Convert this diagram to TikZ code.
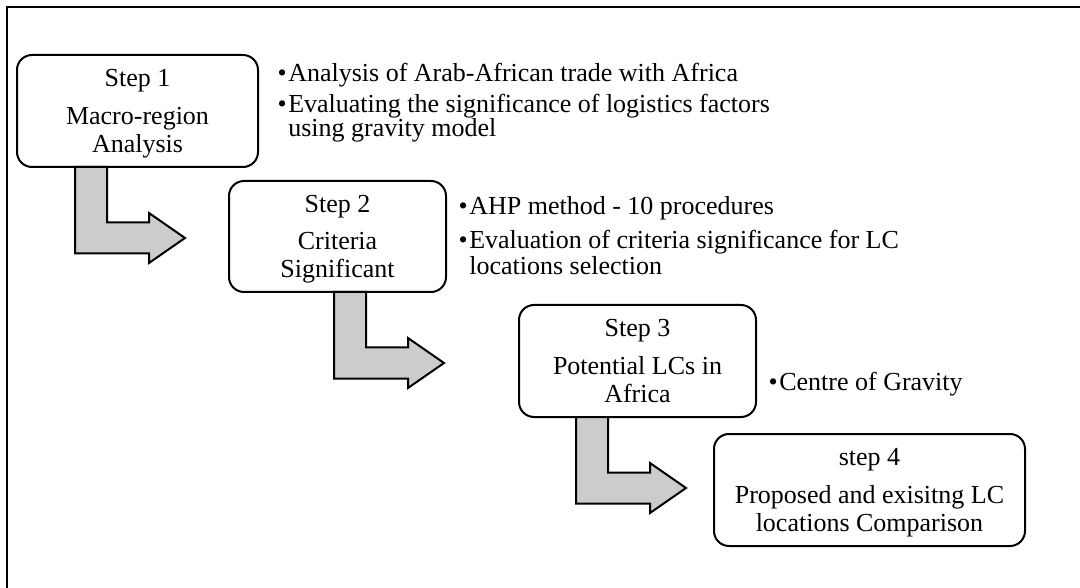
\documentclass[tikz,border=0pt]{standalone}
\usepackage{fontspec}
\setmainfont{Liberation Serif}
\usetikzlibrary{calc}
\definecolor{arrowgray}{RGB}{204,204,204}
\newcommand\mybul{\textbullet\kern1.5pt}
\newcommand\mybulsp{\hphantom{\mybul}}
\newcommand\firstht{\rule{0pt}{23pt}}
\newcommand\lastdp{\rule[-6pt]{0pt}{6pt}}
\newcommand\blockarr[1]{\draw[blockarrow] #1 -- ++(32,0) -- ++(0,55.5) -- ++(42,0) -- ++(0,-9.5) -- ++(36,25) -- ++(-36,25) -- ++(0,-9.5) -- ++(-74,0) -- cycle;}
\begin{document}
\begin{tikzpicture}[x=1pt,y=-1pt,
  stepbox/.style={draw, line width=2pt, rounded corners=15pt, fill=white, inner sep=0pt, outer sep=0pt, align=center, font=\fontsize{26}{28}\selectfont},
  bullettext/.style={anchor=base west, inner sep=0pt, font=\fontsize{26}{25}\selectfont},
  blockarrow/.style={draw, line width=2pt, fill=arrowgray, line join=miter}]
\useasboundingbox (0,0) rectangle (1080,588);
\draw[line width=2pt] (1080,7) -- (7,7) -- (7,588);

\node[stepbox, minimum width=241pt, minimum height=112pt] (s1) at (137.5,111) {\firstht Step 1\\[10pt]Macro-region\\Analysis\lastdp};
\node[stepbox, minimum width=217pt, minimum height=111pt] (s2) at (337.5,236.5) {\firstht Step 2\\[10pt]Criteria\\Significant\lastdp};
\node[stepbox, minimum width=237pt, minimum height=112pt] (s3) at (637.5,361) {\firstht Step 3\\[10pt]Potential LCs in\\Africa\lastdp};
\node[stepbox, minimum width=311pt, minimum height=112pt] (s4) at (869.5,490) {\firstht step 4\\[10pt]Proposed and exisitng LC\\locations Comparison\lastdp};

\blockarr{($(s1.south west)+(58,0)$)}
\blockarr{($(s2.south west)+(105,0)$)}
\blockarr{($(s3.south west)+(57,0)$)}

\node[bullettext] (l1a) at (277.5,82) {\mybul Analysis of Arab-African trade with Africa};
\node[bullettext] (l1b) at (277.5,113) {\mybul Evaluating the significance of logistics factors};
\node[bullettext] (l1c) at (277.5,137) {\mybulsp using gravity model};

\node[bullettext] (l2a) at (458.5,215) {\mybul AHP method - 10 procedures};
\node[bullettext] (l2b) at (458.5,249) {\mybul Evaluation of criteria significance for LC};
\node[bullettext] (l2c) at (458.5,275) {\mybulsp locations selection};

\node[bullettext] (l3a) at (768.5,390) {\mybul Centre of Gravity};
\end{tikzpicture}
\end{document}
